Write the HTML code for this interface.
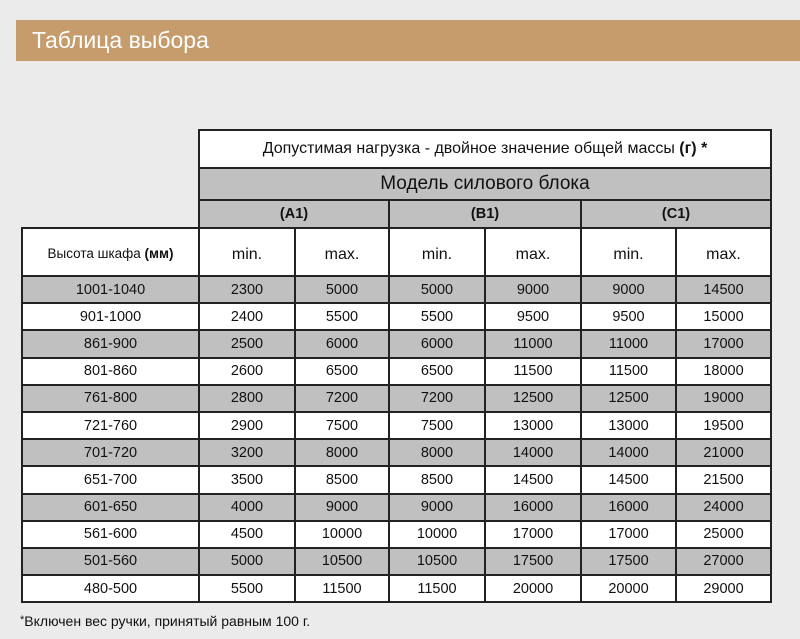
<!DOCTYPE html>
<html><head><meta charset="utf-8"><style>
body{margin:0;width:800px;height:639px;background:#ebebeb;font-family:"Liberation Sans","DejaVu Sans",sans-serif;position:relative;overflow:hidden}
.band{position:absolute;left:16px;top:20px;width:784px;height:41px;background:#c69c6d;color:#fff;font-size:23px;line-height:41px;padding-left:16px;box-sizing:border-box}
table{position:absolute;left:21px;top:129px;border-collapse:collapse;table-layout:fixed}
td{border:2px solid #222;text-align:center;color:#111;font-size:14.5px;padding:0;white-space:nowrap}
td.e{border:none;border-right:2px solid #222;background:transparent}
.g{background:#c0c0c0}
.w{background:#fff}
tr.d td{height:25.2px}
.sub td{font-size:16px;padding-top:6px}
.note{position:absolute;left:20px;top:613px;font-size:14px;color:#111}
</style></head><body>
<div class="band">Таблица выбора</div>
<table>
<colgroup><col style="width:177px"><col style="width:96px"><col style="width:94px"><col style="width:96px"><col style="width:96px"><col style="width:95px"><col style="width:95px"></colgroup>
<tr style="height:38px"><td class="e"></td><td class="w" colspan="6" style="font-size:16px">Допустимая нагрузка - двойное значение общей массы <b>(г)</b> <b>*</b></td></tr>
<tr style="height:32px"><td class="e"></td><td class="g" colspan="6" style="font-size:19px">Модель силового блока</td></tr>
<tr style="height:28px"><td class="e"></td><td class="g" colspan="2"><b>(A1)</b></td><td class="g" colspan="2"><b>(B1)</b></td><td class="g" colspan="2"><b>(C1)</b></td></tr>
<tr class="sub w" style="height:48px"><td style="font-size:13.5px;padding-top:2px">Высота шкафа <b>(мм)</b></td><td>min.</td><td>max.</td><td>min.</td><td>max.</td><td>min.</td><td>max.</td></tr>
<tr class="d g"><td>1001-1040</td><td>2300</td><td>5000</td><td>5000</td><td>9000</td><td>9000</td><td>14500</td></tr>
<tr class="d w"><td>901-1000</td><td>2400</td><td>5500</td><td>5500</td><td>9500</td><td>9500</td><td>15000</td></tr>
<tr class="d g"><td>861-900</td><td>2500</td><td>6000</td><td>6000</td><td>11000</td><td>11000</td><td>17000</td></tr>
<tr class="d w"><td>801-860</td><td>2600</td><td>6500</td><td>6500</td><td>11500</td><td>11500</td><td>18000</td></tr>
<tr class="d g"><td>761-800</td><td>2800</td><td>7200</td><td>7200</td><td>12500</td><td>12500</td><td>19000</td></tr>
<tr class="d w"><td>721-760</td><td>2900</td><td>7500</td><td>7500</td><td>13000</td><td>13000</td><td>19500</td></tr>
<tr class="d g"><td>701-720</td><td>3200</td><td>8000</td><td>8000</td><td>14000</td><td>14000</td><td>21000</td></tr>
<tr class="d w"><td>651-700</td><td>3500</td><td>8500</td><td>8500</td><td>14500</td><td>14500</td><td>21500</td></tr>
<tr class="d g"><td>601-650</td><td>4000</td><td>9000</td><td>9000</td><td>16000</td><td>16000</td><td>24000</td></tr>
<tr class="d w"><td>561-600</td><td>4500</td><td>10000</td><td>10000</td><td>17000</td><td>17000</td><td>25000</td></tr>
<tr class="d g"><td>501-560</td><td>5000</td><td>10500</td><td>10500</td><td>17500</td><td>17500</td><td>27000</td></tr>
<tr class="d w"><td>480-500</td><td>5500</td><td>11500</td><td>11500</td><td>20000</td><td>20000</td><td>29000</td></tr>
</table>
<div class="note"><span style="font-size:11px;vertical-align:3px">*</span>Включен вес ручки, принятый равным 100 г.</div>
</body></html>
